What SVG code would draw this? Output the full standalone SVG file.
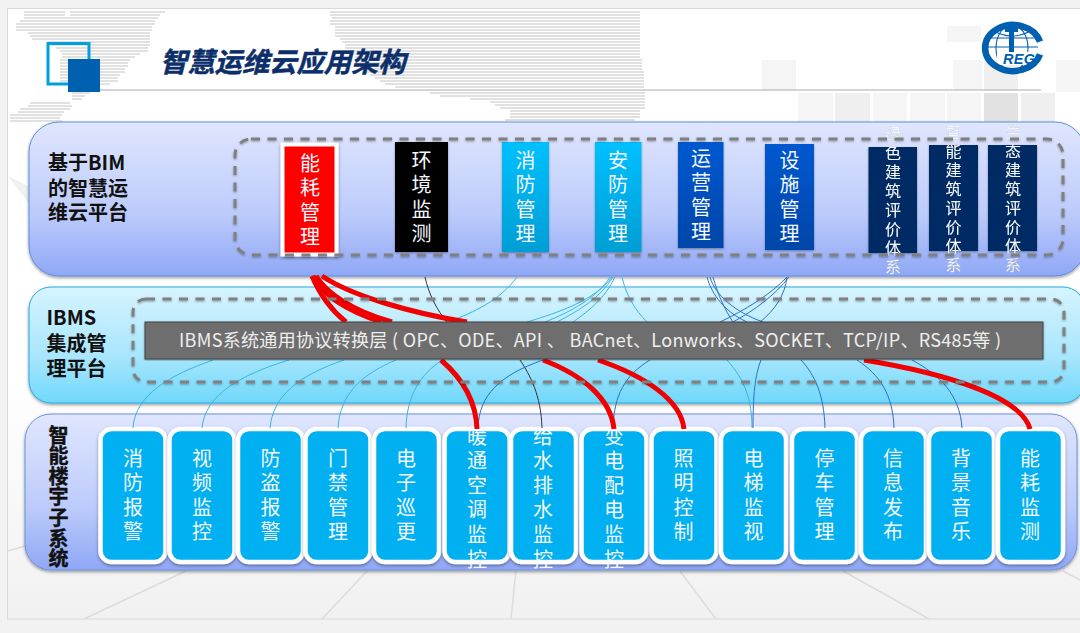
<svg xmlns="http://www.w3.org/2000/svg" width="1080" height="633" viewBox="0 0 1080 633">
<style>
text{font-family:"Noto Sans CJK SC","Noto Sans",sans-serif}
.v{writing-mode:vertical-rl;font-size:20px;fill:#f4f8ff;letter-spacing:4.6px}
.vs{writing-mode:vertical-rl;font-size:16px;fill:#f2f5fa;letter-spacing:3px;filter:url(#sh3)}
.lab{font-size:20px;font-weight:700;fill:#111}
.sub{fill:#00b0f0;stroke:#fff;stroke-width:4.5;filter:url(#sh)}
.navy{fill:#002b63;filter:url(#sh2)}
.dash{fill:none;stroke:#808080;stroke-width:3;stroke-dasharray:9 7.5;filter:url(#sh2)}
.r{fill:none;stroke:#f00000;stroke-width:5;stroke-linecap:butt}
.lb{fill:none;stroke:#3cb4e6;stroke-width:1}
.db{fill:none;stroke:#2f6fc4;stroke-width:1}
.bk{fill:none;stroke:#333;stroke-width:1}
.sq{fill:#f5f5f5}
.bl{fill:none;stroke:#dcdcdc;stroke-width:1.5}
.gl{fill:none;stroke:#0060b0;stroke-width:1.100}
.map{fill:none;stroke:#d8d8d8;stroke-width:1.300}
</style>
<defs>
<filter id="sh" x="-20%" y="-20%" width="140%" height="140%"><feDropShadow dx="0" dy="1.5" stdDeviation="1.5" flood-color="#000" flood-opacity=".4"/></filter>
<filter id="sh2" x="-5%" y="-5%" width="110%" height="110%"><feDropShadow dx="0" dy="1" stdDeviation="1" flood-color="#000" flood-opacity=".35"/></filter>
<filter id="sh3" x="-30%" y="-5%" width="160%" height="110%"><feDropShadow dx="0" dy="0" stdDeviation=".7" flood-color="#223" flood-opacity=".7"/></filter>
<linearGradient id="gP" x1="0" y1="0" x2="0" y2="1"><stop offset="0" stop-color="#e0e6fe"/><stop offset=".6" stop-color="#bccbfb"/><stop offset="1" stop-color="#8fa7f6"/></linearGradient>
<linearGradient id="gI" x1="0" y1="0" x2="0" y2="1"><stop offset="0" stop-color="#d6f4ff"/><stop offset=".6" stop-color="#a8e6fd"/><stop offset="1" stop-color="#6fd8fb"/></linearGradient>
<linearGradient id="gC" x1="0" y1="0" x2="0" y2="1"><stop offset="0" stop-color="#00c0ff"/><stop offset="1" stop-color="#009ed4"/></linearGradient>
<linearGradient id="gB" x1="0" y1="0" x2="0" y2="1"><stop offset="0" stop-color="#0058d0"/><stop offset="1" stop-color="#0046a8"/></linearGradient>
<linearGradient id="gBg" x1="0" y1="0" x2="0" y2="1"><stop offset=".6" stop-color="#fff"/><stop offset="1" stop-color="#f1f1f1"/></linearGradient>
</defs>

<g id="background">
<rect width="1080" height="633" fill="#f2f2f2"/>
<rect x="7.500" y="8.500" width="1080" height="610.500" fill="url(#gBg)" stroke="#d9d9d9"/>
<path class="map" d="M24 12H65M70 12H165M24 15H65M70 15H160M24 18H158M20 21H155M16 24H155M16 27H152M16 30H152M28 33H150M30 36H150M32 39H150M48 42H150M52 45H150M56 48H148M60 51H148M62 54H140M62 57H135M60 60H130M60 63H128M60 66H128M60 69H125M60 72H125M60 75H120M60 78H118M60 81H118M70 84H110M70 87H100M72 93H90M72 96H85M72 99H82M30 103H70M28 106H72M20 109H70M18 112H64M10 115H62M10 118H60M10 121H62"/>
<path class="map" d="M330 12H640M330 15H640M332 18H640M330 21H640M330 24H640M335 27H640M335 30H640M335 33H640M335 36H640M340 39H640M342 42H640M345 45H640M345 48H640M350 51H640M350 54H640M355 57H640M355 60H642M355 63H642M360 66H642M362 69H642M365 72H644M370 75H644M375 78H644M380 81H644M385 84H644M395 87H644M430 93H645M440 96H645M470 99H645M490 102H645M495 105H645M500 108H645M510 111H640M510 114H640M510 117H640M505 120H635"/>
<path fill="#f0f0f0" d="M8 176 28 186 30 205Z"/>
<rect class="sq" x="762" y="60" width="34" height="30"/>
<rect class="sq" x="798" y="93" width="35" height="29"/>
<rect x="835" y="93" width="35" height="29" fill="#efefef"/>
<rect class="sq" x="873" y="93" width="34" height="29"/>
<rect class="sq" x="910" y="93" width="35" height="29"/>
<rect class="sq" x="947" y="93" width="34" height="29"/>
<rect x="984" y="93" width="34" height="29" fill="#e2e2e2"/>
<rect x="1021" y="93" width="34" height="29" fill="#efefef"/>
<rect class="sq" x="947" y="26" width="34" height="16"/>
<rect class="sq" x="953" y="60" width="29" height="30"/>
<rect x="984" y="60" width="34" height="30" fill="#efefef"/>
<rect class="sq" x="1056" y="60" width="24" height="32"/>
<path class="bl" d="M186 571 84 619M367 571 322 619M516 571 511 619M680 571 716 619M843 571 929 619M1063 571 1080 580M8 551 25 546"/>
</g>

<g id="header">
<rect x="48" y="43.500" width="41" height="40.500" fill="none" stroke="#00a0dc" stroke-width="3"/>
<rect x="68" y="59" width="32" height="33" fill="#0060b0"/>
<path d="M100 90H1041" stroke="#aaa" stroke-width="1"/>
<text x="160" y="72" font-size="27.300" font-weight="700" font-style="italic" fill="#0c2f6b" stroke="#0c2f6b" stroke-width=".5">智慧运维云应用架构</text>
</g>

<g id="logo">
<path class="gl" d="M986 38H1036M986 47H1038M992 30Q1012 42 1032 30"/>
<ellipse class="gl" cx="1012" cy="48" rx="16" ry="23"/>
<path d="M1005 27H1018V32H1014V56H1009V32H1005Z" fill="#0060b0"/>
<rect x="997" y="52" width="40" height="13" fill="#fff"/>
<path d="M1040 41.600A28 23 0 1 0 1040 54.400" fill="none" stroke="#0060b0" stroke-width="6.500"/>
<text x="1003" y="64" font-size="14.500" font-weight="700" font-style="italic" fill="#0060b0" style="font-family:'Liberation Sans',sans-serif" textLength="32">REG</text>
</g>

<g id="panels">
<rect id="panel-top" x="29" y="122" width="1056" height="154" rx="30" fill="url(#gP)" stroke="#5f8ee0" filter="url(#sh)"/>
<rect id="panel-mid" x="29" y="287" width="1056" height="116" rx="22" fill="url(#gI)" stroke="#2aaae0" filter="url(#sh)"/>
<rect id="panel-bot" x="25" y="414" width="1052" height="156" rx="26" fill="url(#gP)" stroke="#6c94d8" filter="url(#sh)"/>
<text class="lab"><tspan x="48" y="170">基于BIM</tspan><tspan x="48" y="196">的智慧运</tspan><tspan x="48" y="220">维云平台</tspan></text>
<text class="lab"><tspan x="46.500" y="325">IBMS</tspan><tspan x="46.500" y="351">集成管</tspan><tspan x="46.500" y="376">理平台</tspan></text>
<text class="lab" x="58.500" y="425" style="writing-mode:vertical-rl;letter-spacing:.6px;stroke:#111;stroke-width:.4">智能楼宇子系统</text>
</g>

<g id="top-nodes">
<g id="t1"><rect x="282.500" y="144.500" width="54" height="110" fill="#f00" stroke="#fff" stroke-width="4" filter="url(#sh)"/><text class="v" x="310" y="153">能耗管理</text></g>
<g id="t2"><rect x="395" y="142" width="53" height="110" fill="#000" filter="url(#sh2)"/><text class="v" x="421.500" y="150">环境监测</text></g>
<g id="t3"><rect x="502" y="142" width="47" height="110" fill="url(#gC)" filter="url(#sh2)"/><text class="v" x="525.500" y="150">消防管理</text></g>
<g id="t4"><rect x="595" y="142" width="46.500" height="110" fill="url(#gC)" filter="url(#sh2)"/><text class="v" x="618" y="150">安防管理</text></g>
<g id="t5"><rect x="678" y="142" width="45.500" height="106" fill="url(#gB)" filter="url(#sh2)"/><text class="v" x="701" y="148">运营管理</text></g>
<g id="t6"><rect x="765" y="144" width="49" height="106" fill="url(#gB)" filter="url(#sh2)"/><text class="v" x="789.500" y="150">设施管理</text></g>
<g id="t7"><rect class="navy" x="868.500" y="147" width="48.500" height="106"/><text class="vs" x="893" y="126">绿色建筑评价体系</text></g>
<g id="t8"><rect class="navy" x="929" y="145" width="49" height="106"/><text class="vs" x="953.500" y="124">智能建筑评价体系</text></g>
<g id="t9"><rect class="navy" x="988" y="145" width="49" height="106"/><text class="vs" x="1013" y="124">生态建筑评价体系</text></g>
</g>

<g id="subsystem-nodes">
<g id="s1"><rect class="sub" x="100.500" y="429" width="65" height="133" rx="11"/><text class="v" x="133" y="448">消防报警</text></g>
<g id="s2"><rect class="sub" x="169.500" y="429" width="65" height="133" rx="11"/><text class="v" x="202" y="448">视频监控</text></g>
<g id="s3"><rect class="sub" x="238" y="429" width="65" height="133" rx="11"/><text class="v" x="270.500" y="448">防盗报警</text></g>
<g id="s4"><rect class="sub" x="305.500" y="429" width="65" height="133" rx="11"/><text class="v" x="338" y="448">门禁管理</text></g>
<g id="s5"><rect class="sub" x="374" y="429" width="65" height="133" rx="11"/><text class="v" x="406" y="448">电子巡更</text></g>
<g id="s6"><rect class="sub" x="444.500" y="429" width="65" height="133" rx="11"/><text class="v" x="477" y="426">暖通空调监控</text></g>
<g id="s7"><rect class="sub" x="511" y="429" width="65" height="133" rx="11"/><text class="v" x="543" y="426">给水排水监控</text></g>
<g id="s8"><rect class="sub" x="581.500" y="429" width="65" height="133" rx="11"/><text class="v" x="614" y="426">变电配电监控</text></g>
<g id="s9"><rect class="sub" x="651.500" y="429" width="65" height="133" rx="11"/><text class="v" x="683.500" y="448">照明控制</text></g>
<g id="s10"><rect class="sub" x="721" y="429" width="65" height="133" rx="11"/><text class="v" x="753.500" y="448">电梯监视</text></g>
<g id="s11"><rect class="sub" x="792" y="429" width="65" height="133" rx="11"/><text class="v" x="824.500" y="448">停车管理</text></g>
<g id="s12"><rect class="sub" x="861" y="429" width="65" height="133" rx="11"/><text class="v" x="893" y="448">信息发布</text></g>
<g id="s13"><rect class="sub" x="929" y="429" width="65" height="133" rx="11"/><text class="v" x="961" y="448">背景音乐</text></g>
<g id="s14"><rect class="sub" x="998" y="429" width="65" height="133" rx="11"/><text class="v" x="1030" y="448">能耗监测</text></g>
</g>

<g id="connectors">
<path class="lb" d="M517 277C500 300 475 312 448 322M612 277C595 300 560 312 527 322M610 277C597 298 570 312 545 322M613 277C600 298 580 310 557 322M615 277C605 298 590 310 573 322M622 277C626 295 635 310 647 322"/>
<path class="lb" d="M213 360C170 375 135 395 133 428M289 360C240 375 205 395 202 428M344 360C300 375 273 395 270 428M396 360C360 375 340 395 338 428M442 360C420 375 407 395 406 428M727 360C745 380 752 400 752 428"/>
<path class="bk" d="M425 277C429 295 437 310 447 322M520 360C530 375 541 395 542 428"/>
<path class="db" d="M707 277C712 295 725 312 747 322M710 277C715 295 735 312 763 322M713 277C718 295 725 310 733 322M787 277C770 295 745 310 720 322M789 277C775 295 755 310 733 322M787 277C785 295 775 310 760 322"/>
<path class="db" d="M543 360C500 375 479 395 478 428M650 360C625 375 614 395 613 428M761 360C755 375 753 395 753 428M801 360C815 375 824 395 825 428M857 360C880 375 893 395 894 428M912 360C940 375 960 395 962 428"/>
<path class="r" d="M312 276C320 295 331 310 346 322M441 360C462 378 476 400 477 429"/>
<path class="r" d="M316 276C326 292 350 310 392 322M543 360C585 376 611 400 614 429"/>
<path class="r" d="M313 276C324 296 345 310 381 322M598 360C645 376 681 400 684 429"/>
<path class="r" d="M322 276C350 295 410 313 467 322M864 360C950 374 1022 398 1030 429"/>
</g>

<g id="ibms-bar">
<rect x="145" y="322" width="898" height="37" fill="#6e6e6e" stroke="#444" filter="url(#sh2)"/>
<text x="179" y="347" font-size="18" fill="#eee" textLength="822">IBMS系统通用协议转换层 ( OPC、ODE、API 、 BACnet、Lonworks、SOCKET、TCP/IP、RS485等 )</text>
</g>

<g id="frames">
<rect class="dash" x="235" y="139" width="828" height="116" rx="16"/>
<rect class="dash" x="133" y="299" width="931" height="83" rx="13"/>
</g>
</svg>
